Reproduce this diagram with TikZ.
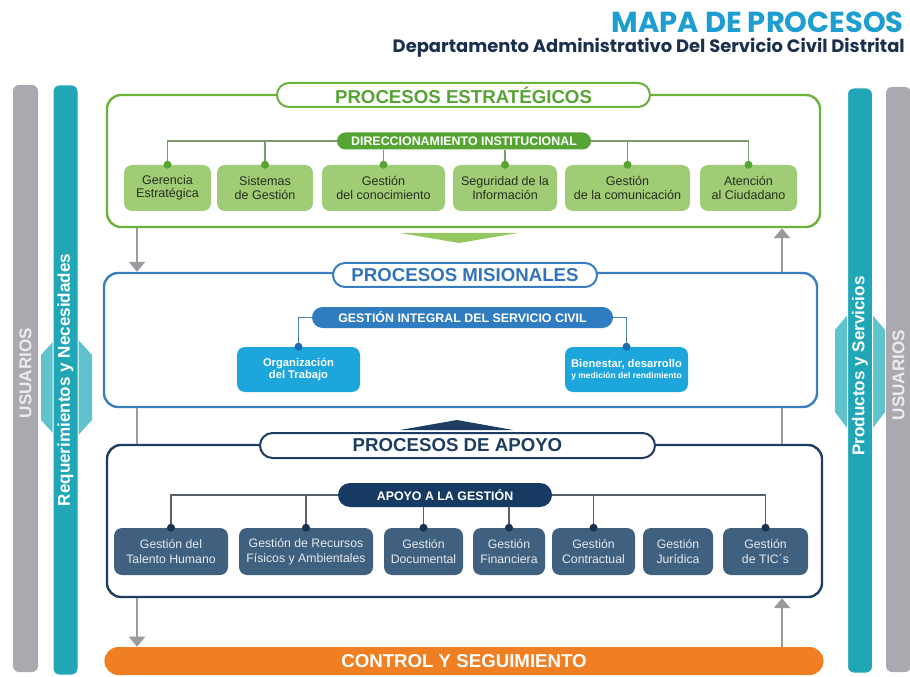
\documentclass[tikz,border=0pt]{standalone}
\usepackage{fontspec}
\setmainfont{Liberation Sans}
\newfontfamily\titlefont{Poppins}
\usetikzlibrary{shapes.misc,arrows.meta}

\definecolor{usergray}{HTML}{A9A9AF}
\definecolor{usertext}{HTML}{ECECEF}
\definecolor{tealbar}{HTML}{21A6B6}
\definecolor{tealsoft}{HTML}{5FC2CC}
\definecolor{estframe}{HTML}{6AB23C}
\definecolor{estdark}{HTML}{56A434}
\definecolor{estfill}{HTML}{A0CC76}
\definecolor{esttext}{HTML}{26301E}
\definecolor{estline}{HTML}{7F9B6C}
\definecolor{estarrow}{HTML}{95C862}
\definecolor{misframe}{HTML}{3A7DC0}
\definecolor{mistext}{HTML}{3274BA}
\definecolor{mispill}{HTML}{2F7CC0}
\definecolor{misfill}{HTML}{1CA6DB}
\definecolor{misline}{HTML}{4B7FA6}
\definecolor{misdot}{HTML}{1A6CAE}
\definecolor{apoframe}{HTML}{1D3D62}
\definecolor{apopill}{HTML}{173A62}
\definecolor{apofill}{HTML}{40607F}
\definecolor{apotext}{HTML}{E4EAF0}
\definecolor{apoline}{HTML}{56616B}
\definecolor{apodot}{HTML}{1A3150}
\definecolor{ctrlorange}{HTML}{F07E23}
\definecolor{flowgray}{HTML}{9B9B9F}
\definecolor{titleblue}{HTML}{1E9ED0}
\definecolor{subnavy}{HTML}{1B2F4E}

\def\px{0.75pt}

\tikzset{
  sidebar/.style={rectangle, rounded corners=6*\px, inner sep=0pt,
    minimum width=25*\px},
  sidetext/.style={rotate=90, inner sep=0pt, font=\fontsize{12.8}{14}\selectfont\bfseries},
  frame/.style={rectangle, rounded corners=14*\px, line width=2.4*\px, fill=white},
  tab/.style={rounded rectangle, fill=white, line width=2*\px, minimum height=24*\px,
    inner sep=0pt, font=\fontsize{14}{16}\selectfont\bfseries},
  pill/.style={rounded rectangle, text=white, inner sep=0pt,
    font=\fontsize{9.3}{11}\selectfont\bfseries},
  procbox/.style={rectangle, rounded corners=8*\px, align=center, inner sep=1pt},
  estbox/.style={procbox, fill=estfill, text=esttext, minimum height=46*\px,
    font=\fontsize{9.4}{10}\selectfont},
  misbox/.style={procbox, fill=misfill, text=white, minimum width=123*\px,
    minimum height=45*\px, font=\fontsize{8.4}{9.5}\selectfont\bfseries},
  apobox/.style={procbox, fill=apofill, text=apotext, minimum height=47*\px,
    font=\fontsize{9.2}{11}\selectfont},
  link/.style={line width=1.6*\px},
  knot/.style={circle, inner sep=0pt, minimum size=8*\px},
  flowline/.style={flowgray, line width=2.6*\px},
  flow/.style={flowline, -{Triangle[width=12pt,length=7.5pt]}}
}

\begin{document}
\begin{tikzpicture}[x=0.75pt, y=-0.75pt]
\useasboundingbox (0,0) rectangle (910,677);

\node[anchor=east, inner sep=0pt, text=titleblue
  ](titulo) at (904,22) {\resizebox{219pt}{!}{\titlefont\bfseries MAPA DE PROCESOS}};
\node[anchor=east, inner sep=0pt, text=subnavy
  ](subtitulo) at (905,48) {\resizebox{384pt}{!}{\titlefont\bfseries Departamento Administrativo Del Servicio Civil Distrital}};

\fill[tealsoft] (66.5,327) -- (92,355) -- (92,420) -- (66.5,448) -- (41,420) -- (41,355) -- cycle;
\fill[tealsoft] (860,300) -- (885,330) -- (885,412) -- (860,445) -- (835,412) -- (835,330) -- cycle;

\node[sidebar, fill=usergray,
  minimum height=587*\px
  ](usrL) at (25.5,378.5) {};
\node[sidebar, fill=tealbar, draw=white, line width=1*\px,
  minimum height=590*\px
  ](reqbar) at (65.5,380) {};
\node[sidebar, fill=tealbar, draw=white, line width=1*\px,
  minimum height=585*\px
  ](prodbar) at (860,380.5) {};
\node[sidebar, fill=usergray,
  minimum height=585*\px
  ](usrR) at (898.5,379.5) {};

\node[sidetext, text=usertext](usrLtxt) at (25.5,373) {USUARIOS};
\node[sidetext, text=white](reqtxt) at (65.5,380) {Requerimientos y Necesidades};
\node[sidetext, text=white](prodtxt) at (860,366) {Productos y Servicios};
\node[sidetext, text=usertext](usrRtxt) at (898.5,375) {USUARIOS};

\node[frame, draw=estframe,
  minimum width=713*\px,
  minimum height=132*\px
  ](est) at (463.5,161) {};
\node[tab, draw=estframe, text=estdark,
  minimum width=373*\px
  ](esttab) at (463.5,95) {PROCESOS ESTRATÉGICOS};
\node[pill, fill=estdark,
  minimum width=254*\px,
  minimum height=17*\px
  ](dir) at (464,141) {DIRECCIONAMIENTO INSTITUCIONAL};

\node[estbox, minimum width=87*\px](gerencia) at (167.5,188) {Gerencia\\Estratégica};
\node[estbox, minimum width=96*\px](sistemas) at (265,188) {Sistemas\\de Gestión};
\node[estbox, minimum width=123*\px](conocimiento) at (383.5,188) {Gestión\\del conocimiento};
\node[estbox, minimum width=104*\px](seguridad) at (505,188) {Seguridad de la\\Información};
\node[estbox, minimum width=125*\px](comunicacion) at (627.5,188) {Gestión\\de la comunicación};
\node[estbox, minimum width=97*\px](atencion) at (748.5,188) {Atención\\al Ciudadano};

\draw[link, estline] (gerencia.north) |- (dir.west);
\draw[link, estline] (sistemas.north) -- (sistemas.north |- dir.west);
\draw[link, estline] (conocimiento.north) -- (conocimiento.north |- dir.south);
\draw[link, estline] (seguridad.north) -- (seguridad.north |- dir.south);
\draw[link, estline] (comunicacion.north) -- (comunicacion.north |- dir.east);
\draw[link, estline] (atencion.north) |- (dir.east);
\foreach \b in {gerencia,sistemas,conocimiento,seguridad,comunicacion,atencion}
  \node[knot, fill=estdark](k-\b) at (\b.north) {};

\fill[estarrow] (400,233) -- (518,233) -- (459,243) -- cycle;

\node[frame, draw=misframe,
  minimum width=713*\px,
  minimum height=134*\px
  ](mis) at (460.5,340) {};
\node[tab, draw=misframe, text=mistext,
  minimum width=264*\px
  ](mistab) at (465,275) {PROCESOS MISIONALES};
\node[pill, fill=mispill,
  minimum width=301*\px,
  minimum height=21*\px
  ](gi) at (462.5,317.5) {GESTIÓN INTEGRAL DEL SERVICIO CIVIL};

\node[misbox](org) at (298.5,369.5) {Organización\\del Trabajo};
\node[misbox](bien) at (626.5,369.5) {Bienestar, desarrollo\\[-1pt]{\fontsize{6.4}{7}\selectfont y medición del rendimiento}};

\draw[link, misline] (org.north) |- (gi.west);
\draw[link, misline] (bien.north) |- (gi.east);
\foreach \b in {org,bien}
  \node[knot, fill=misdot](k-\b) at (\b.north) {};

\fill[apoframe] (400,430) -- (513,430) -- (457,420) -- cycle;

\node[frame, draw=apoframe,
  minimum width=715*\px,
  minimum height=152*\px
  ](apo) at (464.5,521) {};
\node[tab, draw=apoframe, text=apoframe,
  minimum width=395*\px,
  minimum height=25*\px
  ](apotab) at (457.5,445.5) {PROCESOS DE APOYO};
\node[pill, fill=apopill,
  minimum width=214*\px,
  minimum height=24*\px
  ](ag) at (445,495) {APOYO A LA GESTIÓN};

\node[apobox, minimum width=114*\px](talento) at (171,551.5) {Gestión del\\Talento Humano};
\node[apobox, minimum width=134*\px](recursos) at (306,551.5) {Gestión de Recursos\\Físicos y Ambientales};
\node[apobox, minimum width=79*\px](documental) at (423.5,551.5) {Gestión\\Documental};
\node[apobox, minimum width=72*\px](financiera) at (509,551.5) {Gestión\\Financiera};
\node[apobox, minimum width=83*\px](contractual) at (593.5,551.5) {Gestión\\Contractual};
\node[apobox, minimum width=70*\px](juridica) at (678,551.5) {Gestión\\Jurídica};
\node[apobox, minimum width=85*\px](tics) at (765.5,551.5) {Gestión\\de TIC´s};

\draw[link, apoline] (talento.north) |- (ag.west);
\draw[link, apoline] (recursos.north) -- (recursos.north |- ag.west);
\draw[link, apoline] (documental.north) -- (documental.north |- ag.south);
\draw[link, apoline] (financiera.north) -- (financiera.north |- ag.south);
\draw[link, apoline] (contractual.north) -- (contractual.north |- ag.east);
\draw[link, apoline] (tics.north) |- (ag.east);
\foreach \b in {talento,recursos,documental,financiera,contractual,tics}
  \node[knot, fill=apodot](k-\b) at (\b.north) {};

\node[rounded rectangle, fill=ctrlorange, text=white,
  minimum width=728*\px,
  minimum height=28*\px,
  font=\fontsize{14}{16}\selectfont\bfseries
  ](ctrl) at (464,661) {CONTROL Y SEGUIMIENTO};

\coordinate (lx) at (137,0);
\coordinate (rx) at (782,0);
\draw[flow] (est.south -| lx) -- (mis.north -| lx);
\draw[flowline] (mis.south -| lx) -- (apo.north -| lx);
\draw[flow] (apo.south -| lx) -- (ctrl.north -| lx);
\draw[flow] (ctrl.north -| rx) -- (apo.south -| rx);
\draw[flowline] (apo.north -| rx) -- (mis.south -| rx);
\draw[flow] (mis.north -| rx) -- (est.south -| rx);

\end{tikzpicture}
\end{document}
